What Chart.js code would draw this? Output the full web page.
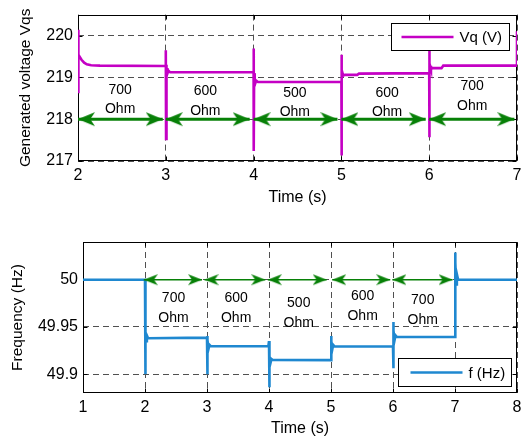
<!DOCTYPE html>
<html><head><meta charset="utf-8">
<script src="https://cdn.jsdelivr.net/npm/chart.js@4/dist/chart.umd.min.js"></script>
<style>
html,body{margin:0;padding:0;background:#fff;width:527px;height:441px;overflow:hidden}
#top{position:absolute;left:0;top:0}
#bot{position:absolute;left:0;top:220px}
</style></head><body>
<canvas id="top" width="527" height="220"></canvas>
<canvas id="bot" width="527" height="221"></canvas>
<script>
// ---------- data ----------
const vqTime = [2.0,2.0,2.004,2.01,2.02,2.04,2.07,2.1,2.15,2.25,2.99,
  3.0,3.0,3.003,3.006,3.01,3.015,3.02,3.03,3.05,3.99,
  4.0,4.0,4.003,4.006,4.01,4.015,4.02,4.03,4.05,4.99,
  5.0,5.0,5.003,5.006,5.01,5.02,5.04,5.18,5.2,5.99,
  6.0,6.0,6.003,6.006,6.01,6.02,6.04,6.14,6.16,6.99,
  7.0,7.0];
const vqValue = [218.65,220.14,219.57,219.54,219.49,219.42,219.35,219.31,219.29,219.28,219.27,
  219.27,219.65,217.53,219.3,219.05,219.22,219.1,219.16,219.12,219.12,
  219.12,219.69,217.24,219.1,218.8,218.98,218.86,218.92,218.89,218.89,
  218.89,217.13,219.54,218.95,219.12,219.04,219.06,219.06,219.09,219.1,
  219.1,217.57,219.65,219.1,219.28,219.2,219.22,219.22,219.28,219.28,
  219.28,220.1];

const fTime = [1,2.0,2.0,2.005,2.01,2.015,2.02,2.03,2.05,2.99,
  3.0,3.0,3.005,3.01,3.015,3.025,3.04,3.06,3.99,
  4.0,4.0,4.005,4.01,4.015,4.025,4.04,4.06,4.99,
  5.0,5.0,5.005,5.01,5.02,5.035,5.06,5.99,
  6.0,6.0,6.005,6.01,6.015,6.025,6.04,6.06,6.99,
  7.0,7.0,7.005,7.01,7.02,7.03,7.05,8];
const fValue = [50,50,49.9,49.948,49.932,49.944,49.935,49.941,49.938,49.9387,
  49.9387,49.9,49.9405,49.925,49.936,49.927,49.931,49.9296,49.9296,
  49.935,49.886,49.922,49.908,49.919,49.912,49.916,49.915,49.9148,
  49.9148,49.9405,49.922,49.935,49.926,49.931,49.9292,49.9292,
  49.9292,49.9062,49.9552,49.932,49.946,49.936,49.941,49.9394,49.9394,
  49.9394,50.029,49.99,50.018,49.995,50.006,50.0,50.0];

const topXTicks = [2,3,4,5,6,7];
const topYTicks = [217,218,219,220];
const botXTicks = [1,2,3,4,5,6,7,8];
const botYTicks = [49.9,49.95,50];

const loadLabels = ['700','600','500','600','700'];
const loadUnit = 'Ohm';

const topArrowStart = [2.0,3.0,4.0,5.0,6.0];
const topArrowEnd   = [2.965,3.955,4.955,5.96,6.97];
const topArrowLevel = 218;
const topLabelX = [2.48,3.45,4.47,5.52,6.49];
const topLabelY = [218.47,218.43,218.40,218.40,218.55];

const botArrowStart = [1.98,2.96,3.98,5.02,5.99];
const botArrowEnd   = [2.92,3.94,4.93,5.955,6.96];
const botArrowLevel = 50;
const botLabelX = [2.46,3.47,4.48,5.51,6.48];
const botLabelY = [49.9697,49.9697,49.9644,49.9723,49.968];

// ---------- styling ----------
const FONT = "'Liberation Sans', Arial, Helvetica, sans-serif";
const MAGENTA = '#c400c4';
const BLUE = '#1f88d0';
const GREEN = '#078007';
const GRID = '#505050';
Chart.defaults.font.family = FONT;
Chart.defaults.color = '#000';

function makeHead(dir, L, W, color) {
  const c = document.createElement('canvas');
  c.width = 2 * L; c.height = W + 2;
  const g = c.getContext('2d');
  const cy = c.height / 2;
  g.fillStyle = color;
  g.beginPath();
  if (dir < 0) {
    g.moveTo(L, cy); g.lineTo(2 * L, cy - W / 2); g.lineTo(L + 0.72 * L, cy); g.lineTo(2 * L, cy + W / 2);
  } else {
    g.moveTo(L, cy); g.lineTo(0, cy - W / 2); g.lineTo(0.28 * L, cy); g.lineTo(0, cy + W / 2);
  }
  g.closePath(); g.fill();
  return c;
}

function arrowDatasets(starts, ends, level, width, L, W) {
  const hl = makeHead(-1, L, W, GREEN), hr = makeHead(1, L, W, GREEN);
  return starts.map((s, i) => ({
    label: '',
    data: [{x: s, y: level}, {x: ends[i], y: level}],
    borderColor: GREEN, backgroundColor: GREEN, borderWidth: width,
    pointStyle: [hl, hr], pointRadius: 1, pointHoverRadius: 1,
    tension: 0, order: 0
  }));
}

const framePlugin = {
  id: 'frame',
  beforeDatasetsDraw(chart) {
    const {ctx, chartArea: a, scales} = chart;
    const L = Math.round(a.left) + 0.5, R = Math.round(a.right) - 0.5;
    const T = Math.round(a.top) + 0.5, B = Math.round(a.bottom) - 0.5;
    ctx.save();
    ctx.strokeStyle = '#000'; ctx.lineWidth = 1; ctx.setLineDash([]);
    ctx.strokeRect(L, T, R - L, B - T);
    ctx.beginPath();
    scales.x.ticks.forEach(t => {
      const px = Math.round(scales.x.getPixelForValue(t.value)) + 0.5;
      ctx.moveTo(px, B); ctx.lineTo(px, B - 4);
      ctx.moveTo(px, T); ctx.lineTo(px, T + 4);
    });
    scales.y.ticks.forEach(t => {
      const py = Math.round(scales.y.getPixelForValue(t.value)) + 0.5;
      ctx.moveTo(L, py); ctx.lineTo(L + 4, py);
      ctx.moveTo(R, py); ctx.lineTo(R - 4, py);
    });
    ctx.stroke();
    ctx.restore();
  }
};

const annotPlugin = {
  id: 'annot',
  afterDatasetsDraw(chart, args, o) {
    const {ctx, scales} = chart;
    ctx.save();
    ctx.fillStyle = '#000';
    ctx.font = o.size + 'px ' + FONT;
    ctx.textAlign = 'center'; ctx.textBaseline = 'middle';
    o.x.forEach((xv, i) => {
      const px = scales.x.getPixelForValue(xv);
      const py = scales.y.getPixelForValue(o.y[i]);
      ctx.fillText(o.text[i], px, py - o.gap / 2);
      ctx.fillText(o.unit, px, py + o.gap / 2);
    });
    ctx.restore();
  }
};

const legendPlugin = {
  id: 'boxLegend',
  afterDraw(chart, args, o) {
    const {ctx, chartArea: a} = chart;
    const ds = chart.data.datasets[0];
    const x0 = Math.round(a.right - o.dx - o.w) + 0.5;
    const y0 = o.corner === 'ne' ? Math.round(a.top + o.dy) + 0.5 : Math.round(a.bottom - o.dy - o.h) + 0.5;
    ctx.save();
    ctx.fillStyle = '#fff';
    ctx.fillRect(x0, y0, o.w, o.h);
    ctx.strokeStyle = '#000'; ctx.lineWidth = 1; ctx.setLineDash([]);
    ctx.strokeRect(x0, y0, o.w, o.h);
    const cy = y0 + o.h / 2;
    ctx.strokeStyle = ds.borderColor; ctx.lineWidth = ds.borderWidth;
    ctx.beginPath(); ctx.moveTo(x0 + o.pad, cy); ctx.lineTo(x0 + o.pad + o.len, cy); ctx.stroke();
    ctx.fillStyle = '#000';
    ctx.font = '15px ' + FONT;
    ctx.textAlign = 'left'; ctx.textBaseline = 'middle';
    ctx.fillText(ds.label, x0 + o.pad + o.len + 6, cy + 1);
    ctx.restore();
  }
};

function pts(t, v) { return t.map((x, i) => ({x, y: v[i]})); }

function makeChart(id, cfg) {
  return new Chart(document.getElementById(id), {
    type: 'line',
    data: {datasets: [
      {label: cfg.label, data: pts(cfg.t, cfg.v), borderColor: cfg.color, borderWidth: 2.6,
       pointRadius: 0, tension: 0, order: 1},
      ...cfg.arrows
    ]},
    options: {
      responsive: false, animation: false, devicePixelRatio: 1, events: [],
      layout: {padding: {top: cfg.padTop, right: cfg.padRight, left: 0, bottom: 0}},
      scales: {
        x: {type: 'linear', min: cfg.xmin, max: cfg.xmax,
            afterBuildTicks: s => { s.ticks = cfg.xTicks.map(v => ({value: v})); },
            afterFit: s => { s.height = cfg.xHeight; },
            ticks: {font: {size: 16}, color: '#000', padding: cfg.xTickPad, maxRotation: 0, autoSkip: false,
                    callback: v => String(v)},
            grid: {color: GRID, lineWidth: 1, drawTicks: false},
            border: {display: false, dash: [6, 4]},
            title: {display: true, text: 'Time (s)', font: {size: 16}, color: '#000',
                    padding: {top: 0, bottom: cfg.xTitlePad}}},
        y: {type: 'linear', min: cfg.ymin, max: cfg.ymax,
            afterBuildTicks: s => { s.ticks = cfg.yTicks.map(v => ({value: v})); },
            afterFit: s => { s.width = cfg.yWidth; },
            ticks: {font: {size: 16}, color: '#000', padding: 5, autoSkip: false,
                    callback: v => String(Math.round(v * 1000) / 1000)},
            grid: {color: GRID, lineWidth: 1, drawTicks: false},
            border: {display: false, dash: [6, 4]},
            title: {display: true, text: cfg.yTitle, font: {size: 15.5}, color: '#000',
                    padding: {top: cfg.yTitlePad, bottom: 0}}}
      },
      plugins: {
        legend: {display: false}, tooltip: {enabled: false},
        annot: {x: cfg.labelX, y: cfg.labelY, text: loadLabels, unit: loadUnit, size: 14, gap: 19.5},
        boxLegend: cfg.legend
      }
    },
    plugins: [framePlugin, annotPlugin, legendPlugin]
  });
}

makeChart('top', {
  label: 'Vq (V)', t: vqTime, v: vqValue, color: MAGENTA,
  arrows: arrowDatasets(topArrowStart, topArrowEnd, topArrowLevel, 3, 17, 14),
  padTop: 11, padRight: 10, xHeight: 59, yWidth: 78, xTickPad: 5.4, xTitlePad: 12.4, yTitlePad: 16.7,
  xmin: 2, xmax: 7, ymin: 217, ymax: 220.5, xTicks: topXTicks, yTicks: topYTicks,
  yTitle: 'Generated voltage Vqs', labelX: topLabelX, labelY: topLabelY,
  legend: {corner: 'ne', dx: 8, dy: 8, w: 118, h: 27, pad: 10, len: 52}
});

makeChart('bot', {
  label: 'f (Hz)', t: fTime, v: fValue, color: BLUE,
  arrows: arrowDatasets(botArrowStart, botArrowEnd, botArrowLevel, 1.6, 14, 11),
  padTop: 22, padRight: 10, xHeight: 48, yWidth: 83, xTickPad: 4.7, xTitlePad: 3.1, yTitlePad: 8.2,
  xmin: 1, xmax: 8, ymin: 49.88, ymax: 50.04, xTicks: botXTicks, yTicks: botYTicks,
  yTitle: 'Frequency (Hz)', labelX: botLabelX, labelY: botLabelY,
  legend: {corner: 'se', dx: 6, dy: 7, w: 113, h: 28, pad: 12, len: 52}
});
</script>
</body></html>
